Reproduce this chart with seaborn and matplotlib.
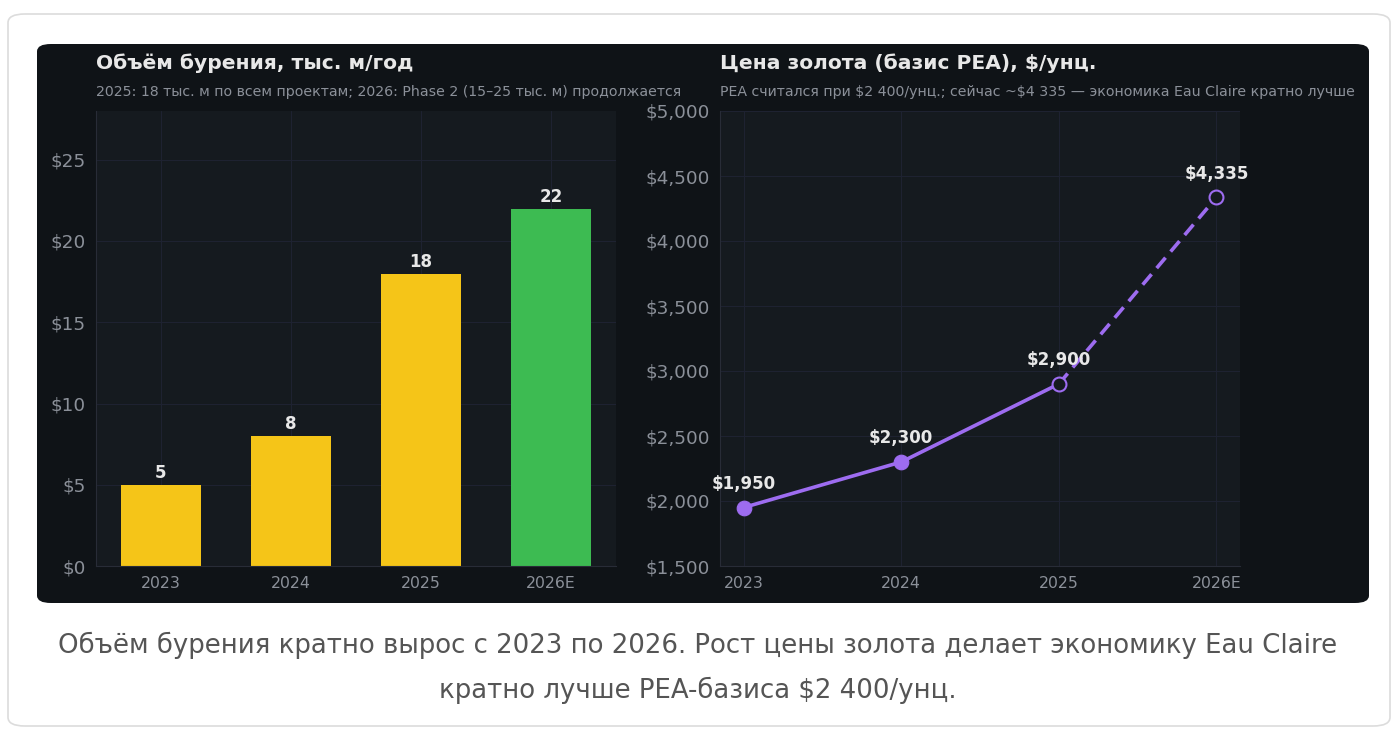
import numpy as np
import matplotlib
matplotlib.use("Agg")
import matplotlib.pyplot as plt
import seaborn as sns
from matplotlib.patches import FancyBboxPatch
from matplotlib.ticker import FuncFormatter

years = ["2023", "2024", "2025", "2026E"]
drilling = [5, 8, 18, 22]
drill_colors = ["#F5C518", "#F5C518", "#F5C518", "#3DBB52"]
gold = [1950, 2300, 2900, 4335]
gold_labels = ["$1,950", "$2,300", "$2,900", "$4,335"]

PANEL = "#0f1317"
AXBG = "#151a1f"
GRID = "#1e2231"
TICK = "#8b9099"
TEXT = "#e8e8e8"
PURPLE = "#9d6cf0"

sns.set_style("dark", {"axes.facecolor": AXBG, "grid.color": GRID,
                       "axes.edgecolor": "#282c37"})
plt.rcParams["font.family"] = ["DejaVu Sans"]

W, H = 1396, 731
fig = plt.figure(figsize=(W / 100, H / 100), dpi=100)
fig.patch.set_facecolor("white")

# outer card and dark panel
fig.patches.append(FancyBboxPatch((8 / W, 1 - 726 / H), 1382 / W, 712 / H,
                                  boxstyle="round,pad=0,rounding_size=0.012",
                                  transform=fig.transFigure, facecolor="white",
                                  edgecolor="#dcdcdc", lw=1.2, zorder=-2))
fig.patches.append(FancyBboxPatch((37 / W, 1 - 603 / H), 1332 / W, 559 / H,
                                  boxstyle="round,pad=0,rounding_size=0.01",
                                  transform=fig.transFigure, facecolor=PANEL,
                                  edgecolor="none", zorder=-1))

ax1 = fig.add_axes([96 / W, 1 - 566 / H, 520 / W, 455 / H])
ax2 = fig.add_axes([720 / W, 1 - 566 / H, 520 / W, 455 / H])

# --- drilling bars
x = np.arange(len(years))
sns.barplot(x=x, y=drilling, hue=x, palette=drill_colors, legend=False,
            width=0.62, ax=ax1, saturation=1, edgecolor="none", linewidth=0)
for cont in ax1.containers:
    ax1.bar_label(cont, fmt="%g", padding=2, color=TEXT, fontsize=12,
                  fontweight="bold")
ax1.set_xlim(-0.5, 3.5)
ax1.set_ylim(0, 28)
ax1.set_yticks([0, 5, 10, 15, 20, 25])
ax1.yaxis.set_major_formatter(FuncFormatter(lambda v, p: f"\\${v:.0f}"))
ax1.set_xticks(x)
ax1.set_xticklabels(years)

# --- gold price line
sns.lineplot(x=x[:3], y=gold[:3], ax=ax2, color=PURPLE, lw=2.6)
sns.lineplot(x=x[2:], y=gold[2:], ax=ax2, color=PURPLE, lw=2.6,
             linestyle=(0, (3.8, 2.2)))
sns.scatterplot(x=x[:2], y=gold[:2], ax=ax2, color=PURPLE, s=110,
                edgecolor=PURPLE, zorder=5)
sns.scatterplot(x=x[2:], y=gold[2:], ax=ax2, color=AXBG, s=100,
                edgecolor=PURPLE, linewidth=1.5, zorder=5)
for xi, yi, lab in zip(x, gold, gold_labels):
    ax2.annotate(lab.replace("$", "\\$"), (xi, yi), xytext=(0, 17),
                 textcoords="offset points", ha="center", va="center",
                 color=TEXT, fontsize=12, fontweight="bold")
ax2.set_xlim(-0.15, 3.15)
ax2.set_ylim(1500, 5000)
ax2.set_yticks(range(1500, 5001, 500))
ax2.yaxis.set_major_formatter(FuncFormatter(lambda v, p: f"\\${v:,.0f}"))
ax2.set_xticks(x)
ax2.set_xticklabels(years)

for ax in (ax1, ax2):
    ax.grid(True, color=GRID, lw=0.8)
    ax.set_axisbelow(True)
    for s in ("top", "right"):
        ax.spines[s].set_visible(False)
    for s in ("left", "bottom"):
        ax.spines[s].set_color("#282c37")
    ax.tick_params(axis="y", colors=TICK, labelsize=13.3, length=4, width=0.8)
    ax.tick_params(axis="x", colors=TICK, labelsize=11.3, length=4, width=0.8)
    ax.set_xlabel("")
    ax.set_ylabel("")

# titles
fig.text(96 / W, 1 - 63 / H, "Объём бурения, тыс. м/год", color=TEXT,
         fontsize=14.6, fontweight="bold", va="center")
fig.text(96 / W, 1 - 92 / H,
         "2025: 18 тыс. м по всем проектам; 2026: Phase 2 (15–25 тыс. м) продолжается",
         color=TICK, fontsize=10.2, va="center")
fig.text(720 / W, 1 - 63 / H, "Цена золота (базис PEA), \\$/унц.", color=TEXT,
         fontsize=14.6, fontweight="bold", va="center")
fig.text(720 / W, 1 - 92 / H,
         "PEA считался при \\$2 400/унц.; сейчас ~\\$4 335 — экономика Eau Claire кратно лучше",
         color=TICK, fontsize=10.2, va="center")

# caption
fig.text(0.5, 1 - 645 / H,
         "Объём бурения кратно вырос с 2023 по 2026. Рост цены золота делает экономику Eau Claire",
         color="#555555", fontsize=18.7, ha="center", va="center")
fig.text(0.5, 1 - 690 / H, "кратно лучше PEA-базиса \\$2 400/унц.",
         color="#555555", fontsize=18.7, ha="center", va="center")

fig.savefig("out.png", dpi=100, facecolor="white")
